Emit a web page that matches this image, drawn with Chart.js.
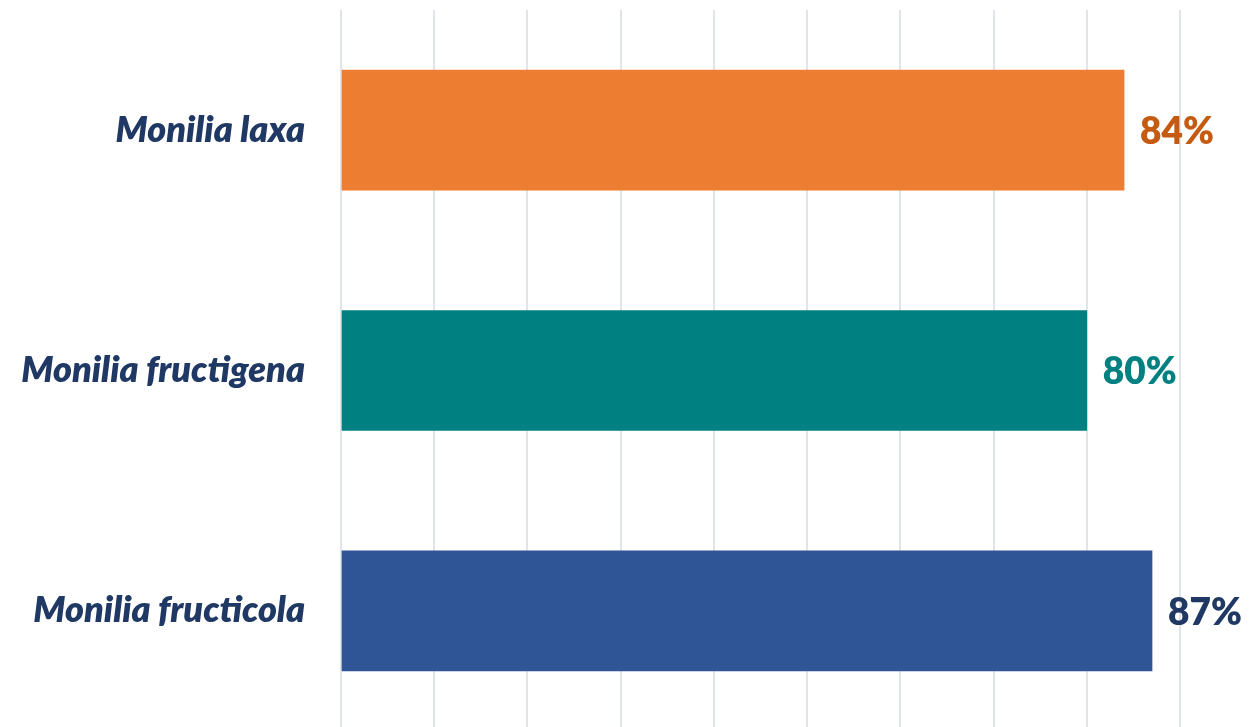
<!DOCTYPE html>
<html>
<head>
<meta charset="utf-8">
<script src="https://cdn.jsdelivr.net/npm/chart.js@4"></script>
<style>
  html, body { margin: 0; padding: 0; background: #fff; overflow: hidden; }
  canvas { display: block; }
</style>
</head>
<body>
<canvas id="bars" width="1258" height="731"></canvas>
<script>
const categories = ['Monilia laxa', 'Monilia fructigena', 'Monilia fructicola'];
const values = [84, 80, 87];
const barColors = ['#ED7D31', '#008080', '#2F5597'];
const labelColors = ['#C55A11', '#008080', '#1F3864'];

// value labels drawn past the end of each bar
const valueLabels = {
    id: 'valueLabels',
    afterDatasetsDraw(chart) {
        const ctx = chart.ctx;
        const meta = chart.getDatasetMeta(0);
        ctx.save();
        ctx.font = '800 37px Lato';
        ctx.textAlign = 'left';
        ctx.textBaseline = 'middle';
        meta.data.forEach((bar, i) => {
            ctx.fillStyle = labelColors[i];
            ctx.fillText(values[i] + '%', bar.x + 16, bar.y + 2);
        });
        ctx.restore();
    }
};

new Chart(document.getElementById('bars').getContext('2d'), {
    type: 'bar',
    data: {
        labels: categories,
        datasets: [{
            data: values,
            backgroundColor: barColors,
            barThickness: 120
        }]
    },
    options: {
        indexAxis: 'y',
        responsive: false,
        animation: false,
        layout: { padding: { top: 10, right: 78, bottom: 0, left: 0 } },
        plugins: { legend: { display: false }, tooltip: { enabled: false } },
        scales: {
            x: {
                min: 0,
                max: 90,
                ticks: { display: false, stepSize: 10 },
                grid: { color: '#E1E4EA', lineWidth: 2, drawTicks: false },
                border: { display: false },
                afterFit(scale) { scale.height = 0; }
            },
            y: {
                grid: { display: false, drawTicks: false },
                border: { display: false },
                ticks: {
                    color: '#1F3864',
                    padding: 36,
                    font: { family: 'Lato', size: 36, weight: 800, style: 'italic' }
                },
                afterFit(scale) {
                    scale.width = 341;
                    // tick padding would otherwise push the plot area in from top and bottom
                    scale.paddingTop = 0;
                    scale.paddingBottom = 0;
                }
            }
        }
    },
    plugins: [valueLabels]
});
</script>
</body>
</html>
